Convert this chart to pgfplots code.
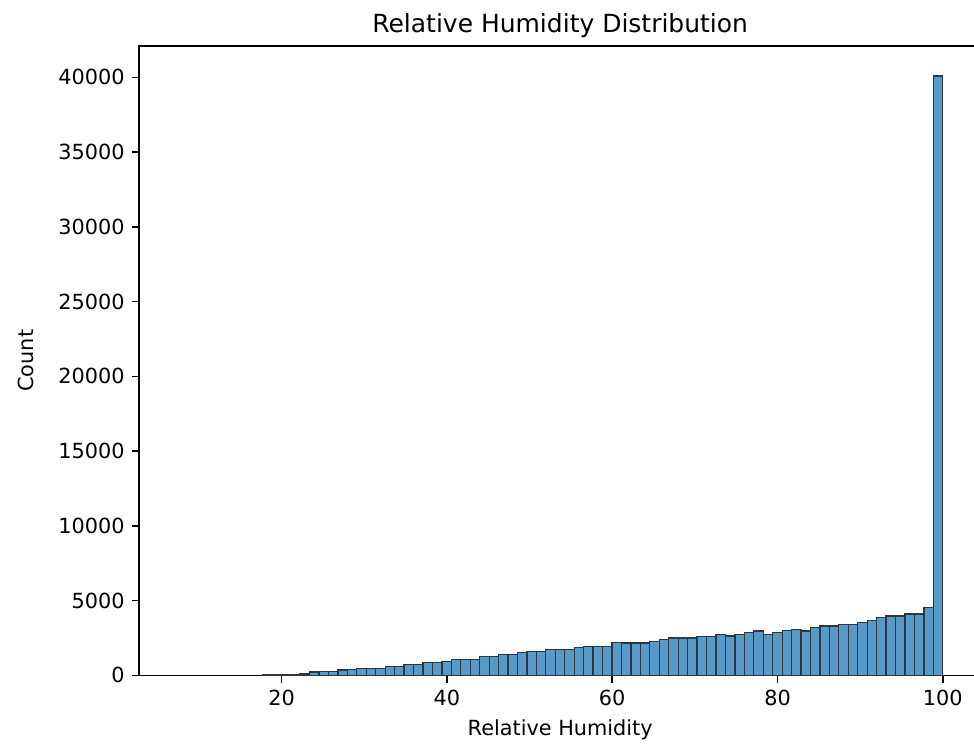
\documentclass[border=0pt]{standalone}
\usepackage{fontspec}
\setmainfont{DejaVu Sans}
\usepackage{pgfplots}
\pgfplotsset{compat=1.18}
\definecolor{barfill}{RGB}{87,153,199}
\definecolor{baredge}{RGB}{45,55,65}

% bin centres (width 1.1431) and counts
\newcommand{\histdata}{
(18.23,50) (19.38,60) (20.52,70) (21.66,80) (22.81,100)
(23.95,230) (25.10,240) (26.24,260) (27.38,370) (28.53,380)
(29.67,480) (30.81,480) (31.96,480) (33.10,590) (34.25,590)
(35.39,715) (36.53,715) (37.68,850) (38.82,840) (39.97,940)
(41.11,1050) (42.25,1050) (43.40,1050) (44.54,1275) (45.68,1275)
(46.83,1385) (47.97,1385) (49.11,1540) (50.26,1610) (51.40,1600)
(52.54,1720) (53.69,1720) (54.83,1720) (55.98,1855) (57.12,1930)
(58.26,1930) (59.41,1930) (60.55,2180) (61.69,2170) (62.84,2170)
(63.98,2170) (65.12,2280) (66.27,2390) (67.41,2510) (68.55,2510)
(69.70,2510) (70.84,2615) (71.99,2615) (73.13,2740) (74.27,2630)
(75.42,2740) (76.56,2870) (77.70,2970) (78.85,2750) (79.99,2870)
(81.13,2980) (82.28,3085) (83.42,2970) (84.56,3195) (85.71,3305)
(86.85,3305) (87.99,3420) (89.14,3420) (90.28,3530) (91.42,3665)
(92.57,3890) (93.71,3980) (94.86,3980) (96.00,4110) (97.14,4110)
(98.29,4560) (99.43,40090)
}

\begin{document}
\begin{tikzpicture}
\begin{axis}[
name=ax,
scale only axis,
width=404.3pt,height=302.3pt,
xmin=2.78,xmax=104.63,ymin=0,ymax=42100,
xtick={20,40,60,80,100},
ytick={0,5000,10000,15000,20000,25000,30000,35000,40000},
xtick pos=bottom,ytick pos=left,
scaled y ticks=false,
/pgf/number format/.cd,1000 sep={},assume math mode=true,/pgfplots/.cd,
tick align=outside,major tick length=3.5pt,
tick style={line width=0.8pt,black},
axis line style={line width=0.8pt},
ticklabel style={font=\fontsize{10}{12}\selectfont},
title={Relative Humidity Distribution},
title style={font=\fontsize{12}{14}\selectfont,at={(0.5,1)},anchor=base,yshift=0.7pt},
xlabel={Relative Humidity},
ylabel={Count},
ylabel shift=5pt,
label style={font=\fontsize{10}{12}\selectfont},
]
\addplot[ybar,bar width=1.1431,bar shift=0pt,fill=barfill,draw=baredge,line width=0.6pt]
coordinates {\histdata};
\end{axis}
\pgfresetboundingbox
\path ([xshift=-66.9pt,yshift=-35.2pt]ax.south west) rectangle ([xshift=-3.4pt,yshift=22.1pt]ax.north east);
\end{tikzpicture}
\end{document}
